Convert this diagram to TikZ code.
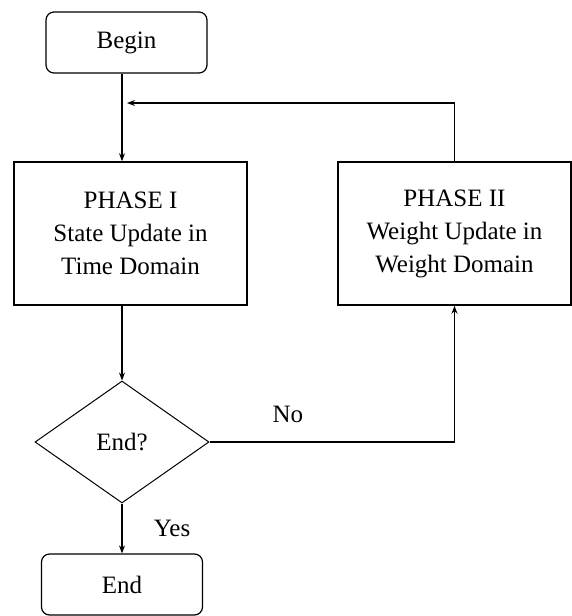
\documentclass[tikz,border=0pt]{standalone}
\usepackage{fontspec}
\setmainfont{Liberation Serif}
\usetikzlibrary{shapes,arrows.meta,positioning,calc}

\begin{document}
\begin{tikzpicture}[x=1pt,y=-1pt,
    font=\fontsize{25}{33}\selectfont,
    term/.style={draw, rounded corners=8pt, minimum width=161pt, minimum height=61pt, line width=1.2pt},
    phase/.style={draw, align=center, minimum width=233pt, minimum height=143pt, line width=1.5pt},
    decision/.style={draw, diamond, minimum width=174pt, minimum height=122pt, inner sep=0pt, line width=1pt},
    flow/.style={-{Stealth[length=8pt,width=6pt]}, line width=1.2pt}]
% two-phase training loop
\useasboundingbox (0,0) rectangle (572,616);

\node[term] (begin) at (126.5,42.5) {Begin};
\node[phase] (phaseone) at (130.5,233.5) {PHASE I\\State Update in\\Time Domain};
\node[phase] (phasetwo) at (454.5,233.5) {PHASE II\\Weight Update in\\Weight Domain};
\node[decision] (check) at (122,442) {End?};
\node[term] (finish) at (122,584.5) {End};
\coordinate (loopin) at (127,103);

\draw[flow] (begin.south -| check) -- (phaseone.north -| check);
\draw[flow] (phaseone.south -| check) -- (check.north);
\draw[flow] (check.south) -- (finish.north) node[midway, right=28pt] {Yes};
\draw[flow] (check.east) -| (phasetwo.south) node[pos=0.16, above=15pt] {No};
\draw[flow] (phasetwo.north) |- (loopin);
\end{tikzpicture}
\end{document}
